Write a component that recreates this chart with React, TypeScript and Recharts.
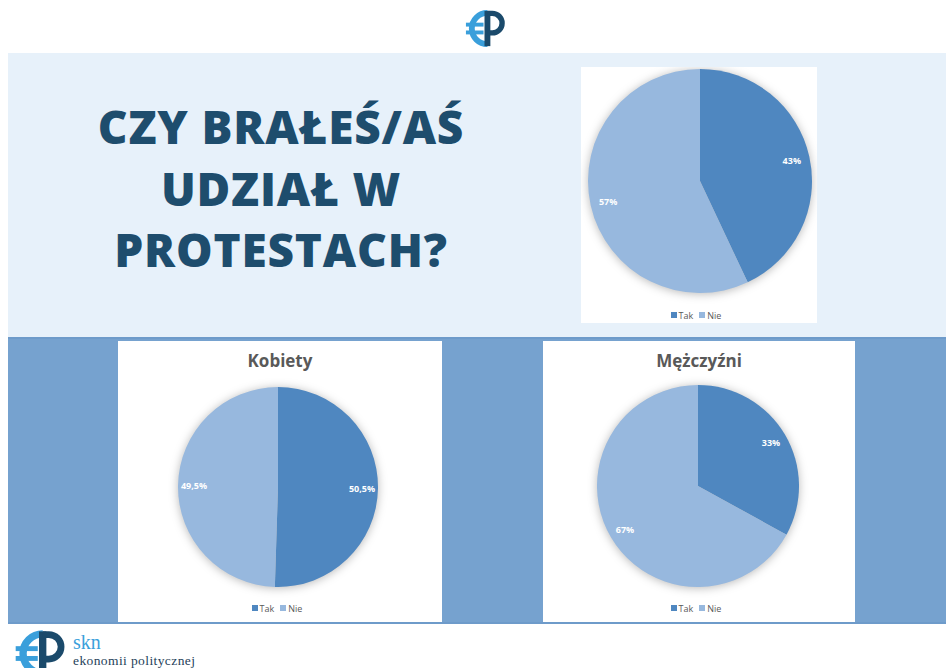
import { Legend, Pie, PieChart } from "recharts";

const categories = ["Tak", "Nie"];
const allValues = [43, 57];
const womenValues = [50.5, 49.5];
const menValues = [33, 67];
const colors = ["#4F87C0", "#97B8DE"];

const RADIAN = Math.PI / 180;

const toRows = (values: number[]) =>
  categories.map((name, i) => ({ name, value: values[i], fill: colors[i] }));

const formatPercent = (v: number) => `${String(v).replace(".", ",")}%`;

const renderLabel = (props: any) => {
  const { cx, cy, midAngle, outerRadius, value } = props;
  const r = outerRadius * 0.84;
  const x = cx + r * Math.cos(-midAngle * RADIAN);
  const y = cy + r * Math.sin(-midAngle * RADIAN);
  return (
    <text
      x={x}
      y={y}
      fill="#ffffff"
      fontSize={9}
      fontWeight={700}
      fontFamily="'Open Sans', sans-serif"
      textAnchor="middle"
      dominantBaseline="central"
    >
      {formatPercent(value)}
    </text>
  );
};

const legendText = (value: string) => (
  <span style={{ color: "#595959", fontSize: 9 }}>{value}</span>
);

type CardProps = {
  left: number;
  top: number;
  width: number;
  height: number;
  values: number[];
  cx: number;
  cy: number;
  radius: number;
  legendBottom: number;
  title?: string;
};

const PieCard = ({ left, top, width, height, values, cx, cy, radius, legendBottom, title }: CardProps) => (
  <div
    className="pie-card"
    style={{ position: "absolute", left, top, width, height, background: "#ffffff" }}
  >
    {title && (
      <div
        style={{
          position: "absolute",
          left: 0,
          top: 8,
          width: "100%",
          textAlign: "center",
          fontFamily: "'Open Sans', sans-serif",
          fontWeight: 700,
          fontSize: 17,
          color: "#595959",
        }}
      >
        {title}
      </div>
    )}
    <PieChart width={width} height={height} margin={{ top: 0, right: 0, bottom: 0, left: 0 }}>
      <Pie
        data={toRows(values)}
        dataKey="value"
        nameKey="name"
        cx={cx}
        cy={cy}
        outerRadius={radius}
        startAngle={90}
        endAngle={-270}
        stroke="none"
        label={renderLabel}
        labelLine={false}
        isAnimationActive={false}
      />
      <Legend
        verticalAlign="bottom"
        align="center"
        iconType="square"
        iconSize={6}
        itemSorter={(item: any) => categories.indexOf(item.value)}
        formatter={legendText}
        wrapperStyle={{ bottom: legendBottom, fontFamily: "'Open Sans', sans-serif", lineHeight: "12px" }}
      />
    </PieChart>
  </div>
);

const Logo = ({ size }: { size: number }) => (
  <svg width={size} height={size * (40 / 44)} viewBox="0 0 44 40">
    <path d="M 25 4 A 16 16 0 0 0 25 36" fill="none" stroke="#3A9FDB" strokeWidth={6} />
    <rect x={3} y={14} width={18} height={4} fill="#3A9FDB" />
    <rect x={3} y={22} width={18} height={4} fill="#3A9FDB" />
    <rect x={22} y={2} width={6} height={36} fill="#1B4A6B" />
    <path d="M 25 4.5 h 5 a 10 10 0 0 1 0 20 h -5" fill="none" stroke="#1B4A6B" strokeWidth={5.5} />
  </svg>
);

export default function App() {
  return (
    <div
      style={{
        position: "relative",
        width: 946,
        height: 668,
        background: "#ffffff",
        overflow: "hidden",
      }}
    >
      <style>{`body{margin:0}
.pie-card .recharts-pie{filter:drop-shadow(0 1px 5px rgba(0,0,0,0.28));}
.pie-card .recharts-legend-item{margin-right:6px !important;}
.pie-card .recharts-legend-item svg{margin-right:2px !important;}`}</style>

      <div style={{ position: "absolute", left: 463, top: 9 }}>
        <Logo size={43} />
      </div>

      <div
        style={{
          position: "absolute",
          left: 8,
          top: 53,
          width: 938,
          height: 284,
          background: "#E7F1FA",
        }}
      />
      <div
        style={{
          position: "absolute",
          left: 8,
          top: 337,
          width: 938,
          height: 287,
          background: "#76A2CF",
          borderTop: "2px solid #6E9BCA",
          borderBottom: "2px solid #6E9BCA",
          boxSizing: "border-box",
        }}
      />

      <div
        style={{
          position: "absolute",
          left: 40,
          top: 96,
          width: 482,
          textAlign: "center",
          fontFamily: "'Open Sans', sans-serif",
          fontWeight: 800,
          fontSize: 46,
          lineHeight: "61.5px",
          color: "#1E4D6D",
          letterSpacing: 0.8,
        }}
      >
        CZY BRAŁEŚ/AŚ
        <br />
        UDZIAŁ W
        <br />
        PROTESTACH?
      </div>

      <PieCard
        left={581}
        top={67}
        width={236}
        height={256}
        values={allValues}
        cx={119}
        cy={114}
        radius={112}
        legendBottom={1}
      />
      <PieCard
        left={118}
        top={341}
        width={324}
        height={281}
        values={womenValues}
        cx={160}
        cy={146}
        radius={100}
        legendBottom={7}
        title="Kobiety"
      />
      <PieCard
        left={543}
        top={341}
        width={312}
        height={281}
        values={menValues}
        cx={155}
        cy={145}
        radius={101}
        legendBottom={7}
        title="Mężczyźni"
      />

      <div style={{ position: "absolute", left: 12, top: 629 }}>
        <Logo size={54} />
      </div>
      <svg
        width={150}
        height={42}
        style={{ position: "absolute", left: 70, top: 626 }}
      >
        <text fontFamily="'Liberation Serif', serif">
          <tspan x={3} y={23} fontSize={20} fill="#3A9FDB">
            skn
          </tspan>
          <tspan x={3} y={39} fontSize={13.5} fill="#1F3F5A" letterSpacing={0.4}>
            ekonomii politycznej
          </tspan>
        </text>
      </svg>
    </div>
  );
}
